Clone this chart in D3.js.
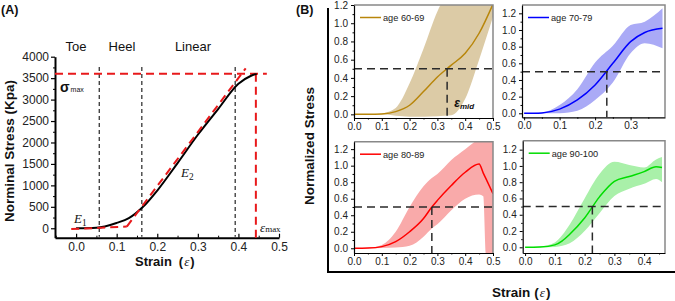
<!DOCTYPE html>
<html>
<head>
<meta charset="utf-8">
<script src="https://cdn.jsdelivr.net/npm/d3@7"></script>
<style>
  body { margin: 0; background: #fff; }
  svg { display: block; }
  text { font-family: "Liberation Sans", Arial, sans-serif; }
</style>
</head>
<body>
<svg width="675" height="301"></svg>
<script>
/* ---- Panel A data ---- */
let strainA = [0, 0.05, 0.1, 0.13, 0.165, 0.2, 0.25, 0.3, 0.35, 0.4, 0.43, 0.445];
let stressA = [0, 12, 125, 235, 500, 880, 1520, 2180, 2780, 3370, 3550, 3600];
let fitE1 = [[-0.012, -20], [0.125, 40]];
let fitE2 = [[0.125, 40], [0.418, 3730]];
let phaseBounds = [0.057, 0.162, 0.392];
let phaseNames = ['Toe', 'Heel', 'Linear'];
let phaseLabelX = [0.0, 0.113, 0.288];
let sigmaMax = 3600;
let epsMax = 0.443;
let yTicksA = [0, 500, 1000, 1500, 2000, 2500, 3000, 3500, 4000];
let xTicksA = [0.0, 0.1, 0.2, 0.3, 0.4, 0.5];

/* ---- Panel B data ---- */
let groups = ['age 60-69', 'age 70-79', 'age 80-89', 'age 90-100'];
let strain60 = [0, 0.05, 0.1, 0.15, 0.2, 0.25, 0.3, 0.35, 0.4, 0.45, 0.5];
let mean60   = [0, 0, 0.005, 0.03, 0.1, 0.25, 0.41, 0.54, 0.67, 0.89, 1.21];
let upper60  = [0, 0, 0.01, 0.07, 0.34, 0.72, 1.13, 1.4, 1.6, 1.7, 1.8];
let lower60  = [0, 0, 0, -0.015, -0.025, -0.025, -0.02, -0.01, 0.17, 0.6, 1.07];

let strain70 = [0, 0.05, 0.1, 0.15, 0.2, 0.25, 0.3, 0.34, 0.39];
let mean70   = [0, 0.005, 0.05, 0.16, 0.34, 0.6, 0.86, 0.97, 1.02];
let upper70  = [0, 0.01, 0.1, 0.29, 0.61, 0.81, 1.06, 1.1, 1.26];
let lower70  = [0, 0, 0, 0.03, 0.16, 0.37, 0.72, 0.84, 0.78];

let strain80 = [0, 0.05, 0.1, 0.15, 0.2, 0.25, 0.28, 0.3, 0.35, 0.4, 0.45, 0.465, 0.475, 0.5];
let mean80   = [0, 0.003, 0.02, 0.08, 0.2, 0.36, 0.5, 0.58, 0.76, 0.92, 1.02, 0.91, 0.84, 0.66];
let upper80  = [0, 0.005, 0.04, 0.2, 0.5, 0.75, 0.85, 0.9, 1.07, 1.2, 1.33, 1.37, 1.39, 1.45];
let lower80  = [0, 0, 0.005, 0.01, 0.03, 0.14, 0.24, 0.29, 0.46, 0.6, 0.65, 0.63, -0.1, -0.1];

let strain90 = [0, 0.05, 0.1, 0.125, 0.15, 0.2, 0.25, 0.3, 0.35, 0.4, 0.44, 0.46];
let mean90   = [0, 0.004, 0.03, 0.08, 0.16, 0.36, 0.62, 0.81, 0.87, 0.93, 0.99, 0.98];
let upper90  = [0, 0.01, 0.06, 0.15, 0.28, 0.6, 0.9, 1.05, 1.01, 0.98, 1.08, 1.11];
let lower90  = [0, 0, 0.005, 0.02, 0.05, 0.2, 0.42, 0.63, 0.72, 0.78, 0.84, 0.8];

let epsMid = [0.335, 0.233, 0.28, 0.226];
let yTicksB = [0, 0.2, 0.4, 0.6, 0.8, 1.0, 1.2];

let svg = d3.select('svg');
svg.append('rect').attr('width', 675).attr('height', 301).attr('fill', '#fff');

/* =================== Panel A =================== */
let xA = d3.scaleLinear().domain([-0.052, 0.5]).range([55, 279]);
let yA = d3.scaleLinear().domain([-220, 4000]).range([237.7, 56.7]);

let gA = svg.append('g');

/* y axis */
let yAxisA = gA.append('g').attr('transform', 'translate(55,0)')
  .call(d3.axisLeft(yA).tickValues(yTicksA).tickSize(4).tickPadding(2).tickSizeOuter(0)
    .tickFormat(d3.format('d')));
gA.append('g').attr('transform', 'translate(55,0)')
  .call(d3.axisLeft(yA).tickValues(d3.range(250, 4000, 500)).tickSize(2).tickFormat('').tickSizeOuter(0))
  .select('.domain').remove();

/* x axis */
let xAxisA = gA.append('g').attr('transform', 'translate(0,237.7)')
  .call(d3.axisBottom(xA).tickValues(xTicksA).tickSizeInner(-4).tickPadding(5).tickSizeOuter(0)
    .tickFormat(d3.format('.1f')));
gA.append('g').attr('transform', 'translate(0,237.7)')
  .call(d3.axisBottom(xA).tickValues([-0.05, 0.05, 0.15, 0.25, 0.35, 0.45]).tickSizeInner(-2).tickFormat('').tickSizeOuter(0))
  .select('.domain').remove();

[yAxisA, xAxisA].forEach(function(g) {
  g.select('.domain').attr('stroke-width', 2);
  g.selectAll('.tick line').attr('stroke-width', 1.2);
  g.selectAll('.tick text').attr('font-size', 12).attr('fill', '#222')
    .attr('font-family', '"Liberation Sans", Arial, sans-serif');
});

/* phase borders */
gA.append('g').selectAll('line').data(phaseBounds).enter().append('line')
  .attr('x1', d => xA(d)).attr('x2', d => xA(d))
  .attr('y1', yA(3760)).attr('y2', yA(-200))
  .attr('stroke', '#111').attr('stroke-width', 1.1).attr('stroke-dasharray', '4,3');

/* phase labels */
gA.append('g').selectAll('text').data(phaseNames).enter().append('text')
  .attr('x', (d, i) => xA(phaseLabelX[i])).attr('y', 51)
  .attr('text-anchor', 'middle').attr('font-size', 13).attr('fill', '#111')
  .text(d => d);

/* sigma max / eps max red dashes */
gA.append('line')
  .attr('x1', xA(-0.052)).attr('x2', xA(0.47))
  .attr('y1', yA(sigmaMax)).attr('y2', yA(sigmaMax))
  .attr('stroke', '#e8191b').attr('stroke-width', 2).attr('stroke-dasharray', '8,5');
gA.append('line')
  .attr('x1', xA(epsMax)).attr('x2', xA(epsMax))
  .attr('y1', yA(sigmaMax)).attr('y2', yA(-220))
  .attr('stroke', '#e8191b').attr('stroke-width', 2).attr('stroke-dasharray', '8,5');

/* curve */
let lineA = d3.line().x(d => xA(d[0])).y(d => yA(d[1])).curve(d3.curveMonotoneX);
gA.append('path').datum(strainA.map((s, i) => [s, stressA[i]]))
  .attr('d', lineA).attr('fill', 'none').attr('stroke', '#000').attr('stroke-width', 2);

/* fits */
[fitE1, fitE2].forEach(function(f) {
  gA.append('path').datum(f).attr('d', d3.line().x(d => xA(d[0])).y(d => yA(d[1])))
    .attr('fill', 'none').attr('stroke', '#e8191b').attr('stroke-width', 2)
    .attr('stroke-dasharray', '8,5');
});

/* annotations */
let sig = gA.append('text').attr('x', 60).attr('y', 92).attr('fill', '#111');
sig.append('tspan').text('σ').attr('font-size', 14).attr('font-weight', 'bold');
sig.append('tspan').text('max').attr('font-size', 7).attr('dx', 1);

function italicSub(g, x, y, main, sub, size) {
  let t = g.append('text').attr('x', x).attr('y', y).attr('fill', '#111')
    .attr('font-family', '"Liberation Serif", "DejaVu Serif", serif');
  t.append('tspan').text(main).attr('font-size', size).attr('font-style', 'italic')
    .attr('font-family', '"Liberation Serif", "DejaVu Serif", serif');
  t.append('tspan').text(sub).attr('font-size', size * 0.72).attr('dy', 3)
    .attr('font-family', '"Liberation Serif", "DejaVu Serif", serif');
  return t;
}
italicSub(gA, 74, 223, 'E', '1', 13);
italicSub(gA, 181, 177, 'E', '2', 13);
let em = gA.append('text').attr('x', 260).attr('y', 232).attr('fill', '#111');
em.append('tspan').text('ε').attr('font-size', 13).attr('font-style', 'italic')
  .attr('font-family', '"Liberation Serif", "DejaVu Serif", serif');
em.append('tspan').text('max').attr('font-size', 9)
  .attr('font-family', '"Liberation Serif", "DejaVu Serif", serif');

/* axis titles */
gA.append('text').attr('transform', 'translate(14,151) rotate(-90)')
  .attr('text-anchor', 'middle').attr('font-size', 13.5).attr('font-weight', 'bold')
  .attr('fill', '#111').text('Norminal Stress (Kpa)');
let xt = gA.append('text').attr('x', 135).attr('y', 266).attr('fill', '#111');
xt.append('tspan').text('Strain').attr('font-size', 13).attr('font-weight', 'bold');
xt.append('tspan').text('(').attr('font-size', 13).attr('font-weight', 'bold').attr('dx', 7);
xt.append('tspan').text('ε').attr('font-size', 13).attr('font-style', 'italic')
  .attr('font-family', '"Liberation Serif", "DejaVu Serif", serif').attr('dx', 1);
xt.append('tspan').text(')').attr('font-size', 13).attr('font-weight', 'bold').attr('dx', 1);

svg.append('text').attr('x', 1).attr('y', 14).attr('font-size', 12.5).attr('font-weight', 'bold')
  .attr('fill', '#111').text('(A)');
svg.append('text').attr('x', 296).attr('y', 14).attr('font-size', 12.5).attr('font-weight', 'bold')
  .attr('fill', '#111').text('(B)');

/* =================== Panel B =================== */
svg.append('line').attr('x1', 328).attr('x2', 328).attr('y1', 8).attr('y2', 273)
  .attr('stroke', '#000').attr('stroke-width', 2);
svg.append('line').attr('x1', 327).attr('x2', 675).attr('y1', 272).attr('y2', 272)
  .attr('stroke', '#000').attr('stroke-width', 2);

svg.append('text').attr('transform', 'translate(314,146) rotate(-90)')
  .attr('text-anchor', 'middle').attr('font-size', 13.5).attr('font-weight', 'bold')
  .attr('fill', '#111').text('Normalized Stress');
let xtB = svg.append('text').attr('x', 492).attr('y', 297).attr('fill', '#111');
xtB.append('tspan').text('Strain').attr('font-size', 13.5).attr('font-weight', 'bold');
xtB.append('tspan').text('(').attr('font-size', 13.5).attr('font-weight', 'bold').attr('dx', 4);
xtB.append('tspan').text('ε').attr('font-size', 13).attr('font-style', 'italic')
  .attr('font-family', '"Liberation Serif", "DejaVu Serif", serif').attr('dx', 1);
xtB.append('tspan').text(')').attr('font-size', 13.5).attr('font-weight', 'bold').attr('dx', 1);

let series = [
  { strain: strain60, mean: mean60, upper: upper60, lower: lower60 },
  { strain: strain70, mean: mean70, upper: upper70, lower: lower70 },
  { strain: strain80, mean: mean80, upper: upper80, lower: lower80 },
  { strain: strain90, mean: mean90, upper: upper90, lower: lower90 }
];
let lineColors = ['#b8860b', '#0000ff', '#ff0000', '#00dd00'];
let bandColors = ['#dccba6', '#aaaaf6', '#f9aaaa', '#a9f0a9'];
let layout = [
  { x: [354, 493], y: [118, 5], xd: [0, 0.5], yd: [-0.04, 1.2], xt: [0, 0.1, 0.2, 0.3, 0.4, 0.5] },
  { x: [522, 665], y: [117.3, 5], xd: [-0.006, 0.397], yd: [-0.048, 1.3], xt: [0, 0.1, 0.2, 0.3] },
  { x: [354, 493], y: [253, 141.7], xd: [0, 0.5], yd: [-0.057, 1.29], xt: [0, 0.1, 0.2, 0.3, 0.4, 0.5] },
  { x: [522.7, 665], y: [253, 140.7], xd: [-0.008, 0.47], yd: [-0.07, 1.31], xt: [0, 0.1, 0.2, 0.3, 0.4] }
];

let defs = svg.append('defs');

series.forEach(function(s, k) {
  let L = layout[k];
  let x = d3.scaleLinear().domain(L.xd).range(L.x);
  let y = d3.scaleLinear().domain(L.yd).range(L.y);
  let g = svg.append('g');

  defs.append('clipPath').attr('id', 'clip' + k).append('rect')
    .attr('x', L.x[0]).attr('y', L.y[1]).attr('width', L.x[1] - L.x[0]).attr('height', L.y[0] - L.y[1]);

  let plot = g.append('g').attr('clip-path', 'url(#clip' + k + ')');

  let pts = s.strain.map((v, i) => ({ x: v, m: s.mean[i], u: s.upper[i], l: s.lower[i] }));
  plot.append('path').datum(pts)
    .attr('d', d3.area().x(d => x(d.x)).y0(d => y(d.l)).y1(d => y(d.u)).curve(d3.curveMonotoneX))
    .attr('fill', bandColors[k]);
  plot.append('path').datum(pts)
    .attr('d', d3.line().x(d => x(d.x)).y(d => y(d.m)).curve(d3.curveMonotoneX))
    .attr('fill', 'none').attr('stroke', lineColors[k]).attr('stroke-width', 1.5);

  /* mid-strain guides */
  plot.append('line').attr('x1', L.x[0]).attr('x2', L.x[1]).attr('y1', y(0.5)).attr('y2', y(0.5))
    .attr('stroke', '#2a2a2a').attr('stroke-width', 1.5).attr('stroke-dasharray', '8,5');
  plot.append('line').attr('x1', x(epsMid[k])).attr('x2', x(epsMid[k]))
    .attr('y1', y(0.5)).attr('y2', L.y[0])
    .attr('stroke', '#2a2a2a').attr('stroke-width', 1.5).attr('stroke-dasharray', '8,5');

  /* frame top/right */
  g.append('path')
    .attr('d', 'M' + L.x[0] + ',' + L.y[1] + 'H' + L.x[1] + 'V' + L.y[0])
    .attr('fill', 'none').attr('stroke', '#888').attr('stroke-width', 1.5);

  /* axes */
  let ya = g.append('g').attr('transform', 'translate(' + L.x[0] + ',0)')
    .call(d3.axisLeft(y).tickValues(yTicksB).tickSize(3).tickPadding(3).tickSizeOuter(0)
      .tickFormat(d3.format('.1f')));
  g.append('g').attr('transform', 'translate(' + L.x[0] + ',0)')
    .call(d3.axisLeft(y).tickValues([0.1, 0.3, 0.5, 0.7, 0.9, 1.1]).tickSize(1.5).tickFormat('').tickSizeOuter(0))
    .select('.domain').remove();
  let xa = g.append('g').attr('transform', 'translate(0,' + L.y[0] + ')')
    .call(d3.axisBottom(x).tickValues(L.xt).tickSize(3).tickPadding(2).tickSizeOuter(0)
      .tickFormat(d3.format('.1f')));
  g.append('g').attr('transform', 'translate(0,' + L.y[0] + ')')
    .call(d3.axisBottom(x).tickValues(L.xt.map(v => v + 0.05).filter(v => v < L.xd[1])).tickSize(1.5)
      .tickFormat('').tickSizeOuter(0))
    .select('.domain').remove();
  [ya, xa].forEach(function(a) {
    a.select('.domain').attr('stroke-width', 1.2);
    a.selectAll('.tick text').attr('font-size', 10).attr('fill', '#222')
      .attr('font-family', '"Liberation Sans", Arial, sans-serif');
  });

  /* legend */
  let lx = L.x[0] + 6, ly = L.y[1] + 12.5;
  g.append('line').attr('x1', lx).attr('x2', lx + 21).attr('y1', ly).attr('y2', ly)
    .attr('stroke', lineColors[k]).attr('stroke-width', 1.5);
  g.append('text').attr('x', lx + 23).attr('y', ly + 3.3).attr('font-size', 9.2).attr('fill', '#222')
    .text(groups[k]);
});

/* eps_mid label in first subplot */
let xm = d3.scaleLinear().domain(layout[0].xd).range(layout[0].x);
let ymk = d3.scaleLinear().domain(layout[0].yd).range(layout[0].y);
let emid = svg.append('text').attr('x', xm(epsMid[0]) + 7).attr('y', ymk(0.08)).attr('fill', '#111')
  .attr('font-weight', 'bold').attr('font-style', 'italic')
  .attr('font-family', '"Liberation Serif", "DejaVu Serif", serif');
emid.append('tspan').text('ε').attr('font-size', 12);
emid.append('tspan').text('mid').attr('font-size', 8).attr('dy', 2);
</script>
</body>
</html>
